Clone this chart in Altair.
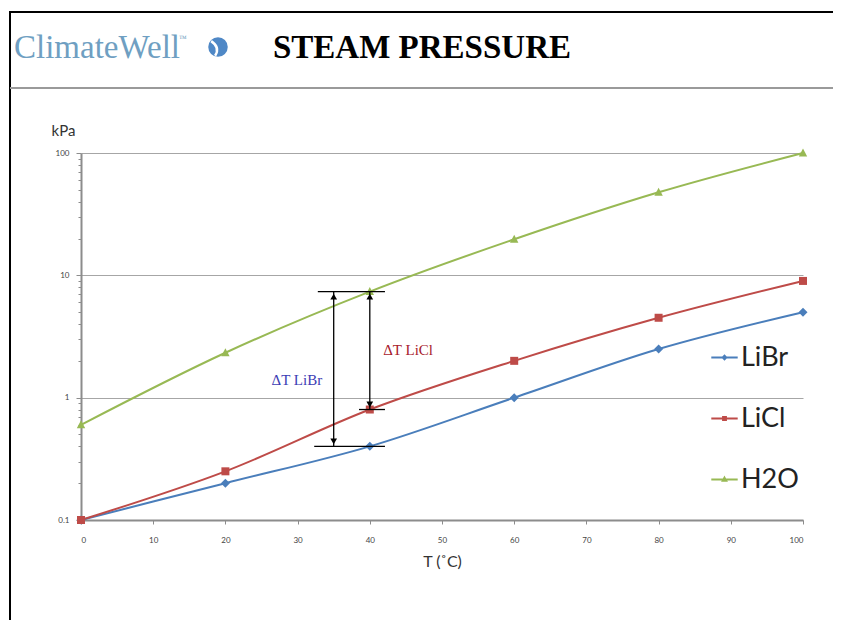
import altair as alt
import pandas as pd

# ---------------- data ----------------
T = [0, 20, 40, 60, 80, 100]
libr = [0.1, 0.2, 0.4, 1.0, 2.5, 5.0]
licl = [0.1, 0.25, 0.8, 2.0, 4.5, 9.0]
h2o = [0.6, 2.33, 7.36, 19.7, 47.7, 100.0]
series = ["LiBr", "LiCl", "H2O"]
colors = ["#4a7ebb", "#be4b48", "#98b954"]

# annotation arrows (data coordinates)
arrow_T = [35, 40]
arrow_lo = [0.4, 0.8]
arrow_hi = [7.36, 7.36]
bar_T1 = [32.8, 32.3, 38.5]
bar_T2 = [42.1, 42.1, 42.1]
bar_P = [7.36, 0.4, 0.8]
note_text = ["ΔT LiBr", "ΔT LiCl"]
note_T = [29.9, 45.3]
note_P = [1.4, 2.47]
note_color = ["#3c3cb4", "#a8202c"]

y_ticks = [round(m * 10 ** e, 4) for e in (-1, 0, 1) for m in range(1, 10)] + [100]
x_ticks = list(range(0, 101, 10))

rows = []
for s, vals in zip(series, [libr, licl, h2o]):
    for t, v in zip(T, vals):
        rows.append({"T": t, "P": v, "S": s})
df = pd.DataFrame(rows)

# data markers (filled)
marker_paths = [
    "M0,-0.45L0.45,0L0,0.45L-0.45,0Z",
    "M-0.4,-0.4H0.4V0.4H-0.4Z",
    "M0,-0.45L0.42,0.35H-0.42Z",
]
# legend symbols: line + small marker drawn by stroke
legend_paths = [
    "M-1.2,0H1.2M0,-0.16L0.16,0L0,0.16L-0.16,0Z",
    "M-1.2,0H1.2M-0.13,-0.13H0.13V0.13H-0.13Z",
    "M-1.2,0H1.2M0,-0.17L0.16,0.12H-0.16Z",
]

major = "abs(log(datum.value)/LN10 - round(log(datum.value)/LN10)) < 0.001"

xscale = alt.Scale(domain=[0, 100], nice=False, zero=False)
yscale = alt.Scale(type="log", domain=[0.1, 100], nice=False)

xaxis = alt.Axis(values=x_ticks, grid=False, domainColor="#8c8c8c", domainWidth=2,
                 tickColor="#8c8c8c", tickSize=4, labelFontSize=8, labelColor="#444",
                 labelFont="Lato", labelPadding=12, title="T (˚C)", titleFont="Lato",
                 titleFontSize=16, titleFontWeight="normal", titleColor="#333",
                 titlePadding=9)
yaxis = alt.Axis(values=y_ticks, format="~g", labelExpr=f"{major} ? datum.label : ''",
                 gridColor="#a6a6a6", gridWidth=1,
                 gridOpacity={"condition": {"test": major, "value": 1}, "value": 0},
                 tickSize={"condition": {"test": major, "value": 5}, "value": 3},
                 tickColor="#8c8c8c", domainColor="#8c8c8c", domainWidth=2,
                 labelFontSize=8, labelColor="#444", labelFont="Lato", labelPadding=7,
                 title="kPa", titleAngle=0, titleAlign="center", titleBaseline="middle",
                 titleX=-18, titleY=-23, titleFont="Lato", titleFontSize=15,
                 titleFontWeight="normal", titleColor="#333")

legend = alt.Legend(title=None, orient="none", legendX=630, legendY=191,
                    symbolSize=484, symbolStrokeWidth=2, labelFontSize=27,
                    labelFont="Lato", labelColor="#222", labelOffset=3)

cscale = alt.Scale(domain=series, range=colors)

base = alt.Chart(df)
lines = base.mark_line(strokeWidth=2, interpolate="monotone").encode(
    x=alt.X("T:Q", scale=xscale, axis=xaxis),
    y=alt.Y("P:Q", scale=yscale, axis=yaxis),
    color=alt.Color("S:N", scale=cscale, legend=legend), detail="S:N")

point_layers = []
for s, c, p in zip(series, colors, marker_paths):
    point_layers.append(
        base.transform_filter(alt.datum.S == s).mark_point(
            shape=p, filled=True, color=c, opacity=1, size=400, strokeWidth=0
        ).encode(x=alt.X("T:Q", scale=xscale), y=alt.Y("P:Q", scale=yscale))
    )

# legend-only layer (draws nothing, rows filtered out)
legend_layer = base.transform_filter("false").mark_point(
    filled=False, opacity=1, strokeWidth=2, size=484).encode(
    x=alt.X("T:Q", scale=xscale), y=alt.Y("P:Q", scale=yscale),
    color=alt.Color("S:N", scale=cscale, legend=legend),
    shape=alt.Shape("S:N", scale=alt.Scale(domain=series, range=legend_paths),
                    legend=legend))

adf = pd.DataFrame({"T": arrow_T, "lo": arrow_lo, "hi": arrow_hi})
bdf = pd.DataFrame({"T1": bar_T1, "T2": bar_T2, "P": bar_P})

vrules = alt.Chart(adf).mark_rule(color="black", strokeWidth=1.3).encode(
    x=alt.X("T:Q", scale=xscale), y=alt.Y("lo:Q", scale=yscale), y2="hi:Q")
hrules = alt.Chart(bdf).mark_rule(color="black", strokeWidth=1.3).encode(
    x=alt.X("T1:Q", scale=xscale), x2="T2:Q", y=alt.Y("P:Q", scale=yscale))
heads_up = alt.Chart(adf).mark_point(shape="triangle-up", filled=True, color="black",
                                     opacity=1, size=45, yOffset=5).encode(
    x=alt.X("T:Q", scale=xscale), y=alt.Y("hi:Q", scale=yscale))
heads_dn = alt.Chart(adf).mark_point(shape="triangle-down", filled=True, color="black",
                                     opacity=1, size=45, yOffset=-5).encode(
    x=alt.X("T:Q", scale=xscale), y=alt.Y("lo:Q", scale=yscale))

note_layers = []
for t, nt, npv, nc in zip(note_text, note_T, note_P, note_color):
    ndf = pd.DataFrame({"t": [t], "T": [nt], "P": [npv]})
    note_layers.append(
        alt.Chart(ndf).mark_text(font="Liberation Serif", fontSize=15, align="center",
                                 baseline="middle", color=nc).encode(
            x=alt.X("T:Q", scale=xscale), y=alt.Y("P:Q", scale=yscale), text="t:N"))

one = pd.DataFrame({"a": [0]})
hdr = alt.Chart(one)
border_left = hdr.mark_rule(color="black", strokeWidth=2).encode(
    x=alt.value(-71), y=alt.value(-141), y2=alt.value(480))
border_top = hdr.mark_rule(color="black", strokeWidth=2).encode(
    x=alt.value(-72), x2=alt.value(760), y=alt.value(-141))
header_line = hdr.mark_rule(color="#9a9a9a", strokeWidth=2).encode(
    x=alt.value(-71), x2=alt.value(760), y=alt.value(-65))
brand = hdr.mark_text(font="Liberation Serif", fontSize=33, color="#6f9fc2",
                      align="left", baseline="alphabetic").encode(
    x=alt.value(-67), y=alt.value(-95), text=alt.value("ClimateWell"))
tm = hdr.mark_text(font="Liberation Serif", fontSize=8, color="#6f9fc2",
                   align="left", baseline="alphabetic").encode(
    x=alt.value(98), y=alt.value(-112), text=alt.value("™"))
logo = hdr.mark_point(shape="circle", filled=True, color="#4f88c6", opacity=1,
                      size=380).encode(x=alt.value(137), y=alt.value(-106))
logo_cut = hdr.mark_point(shape="M-0.7,-0.6C-0.1,-0.2,0.1,0.3,-0.3,0.9", filled=False,
                          color="white", opacity=1, strokeWidth=2.5, size=380).encode(
    x=alt.value(137), y=alt.value(-106))
title = hdr.mark_text(font="Liberation Serif", fontSize=33, fontWeight="bold",
                      color="black", align="left", baseline="alphabetic").encode(
    x=alt.value(192), y=alt.value(-95), text=alt.value("STEAM PRESSURE"))

chart = alt.layer(
    border_left, border_top, header_line, brand, tm, logo, logo_cut, title,
    lines, *point_layers, legend_layer, vrules, hrules, heads_up, heads_dn, *note_layers
).properties(
    width=722, height=367,
    padding={"left": 73, "top": 145, "right": 30, "bottom": 100},
    autosize=alt.AutoSizeParams(type="none"),
    background="white",
).configure_view(stroke=None).configure_legend(rowPadding=33, padding=0)

chart.save("out.html", embed_options={"renderer": "svg", "actions": False})
